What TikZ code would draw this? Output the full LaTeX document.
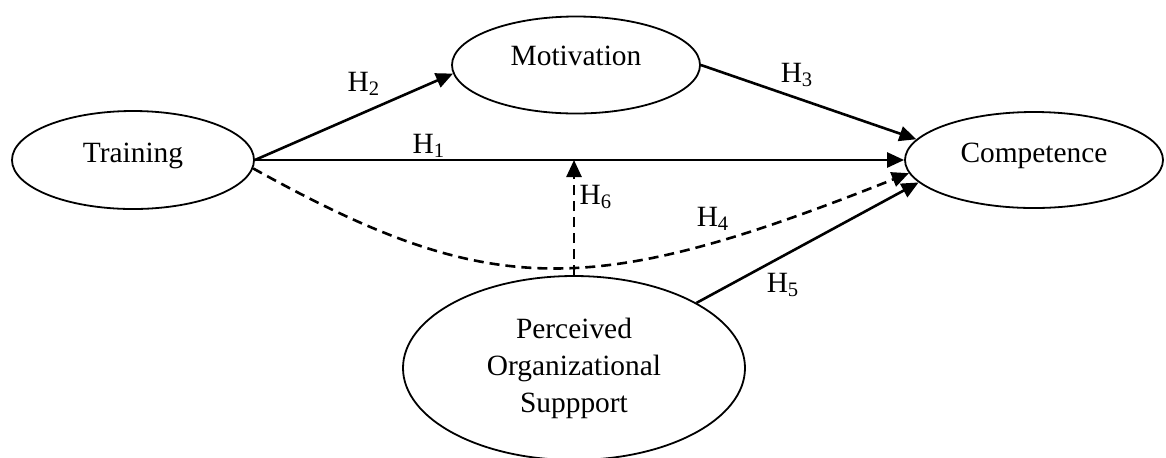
\documentclass[tikz,border=0pt]{standalone}
\usepackage{fontspec}
\setmainfont{Liberation Serif}
\usetikzlibrary{shapes.geometric,arrows.meta}

\newcommand{\hyp}[1]{H\textsubscript{#1}}

\begin{document}
\begin{tikzpicture}
[
    x=0.5pt, y=-0.5pt,
    construct/.style={draw, ellipse, line width=0.9pt, inner sep=0pt, align=center,
        font=\fontsize{14.7}{18.5}\selectfont},
    single/.style={text height=9.5pt, text depth=7.5pt},
    effect/.style={line width=1.3pt, -{Triangle[length=8.5pt,width=7.5pt]}},
    dasheffect/.style={effect, dash pattern=on 5pt off 3pt},
    hlabel/.style={inner sep=0pt, font=\fontsize{14.7}{17}\selectfont},
]
\useasboundingbox (0,0) rectangle (1166,457);

\node [construct, single, minimum width=121pt, minimum height=49pt] (train) at (133,160) {Training};
\node [construct, single, text depth=9pt, minimum width=124pt, minimum height=48.5pt] (motiv) at (576,65) {Motivation};
\node [construct, single, minimum width=129pt, minimum height=48pt] (compet) at (1034,160) {Competence};
\node [construct, minimum width=171pt, minimum height=92pt] (pos) at (574,368)
    {Perceived\\Organizational\\Suppport};

\coordinate (mod) at (pos.north |- train.east);

\draw [effect] (train.east) -- (compet.west);
\draw [effect] (train.east) -- (motiv.184);
\draw [effect] (motiv.east) -- (compet.170);
\draw [dasheffect] (train.-4) .. controls (490,300) and (590,300) .. (compet.186);
\draw [effect] (pos.28) -- (compet.191);
\draw [dasheffect] (pos.north) -- (mod);

\node [hlabel] (h1) at (429,146) {\hyp{1}};
\node [hlabel] (h2) at (364,84) {\hyp{2}};
\node [hlabel] (h3) at (797,75) {\hyp{3}};
\node [hlabel] (h4) at (713,219) {\hyp{4}};
\node [hlabel] (h5) at (783,285) {\hyp{5}};
\node [hlabel] (h6) at (596,197) {\hyp{6}};
\end{tikzpicture}
\end{document}
